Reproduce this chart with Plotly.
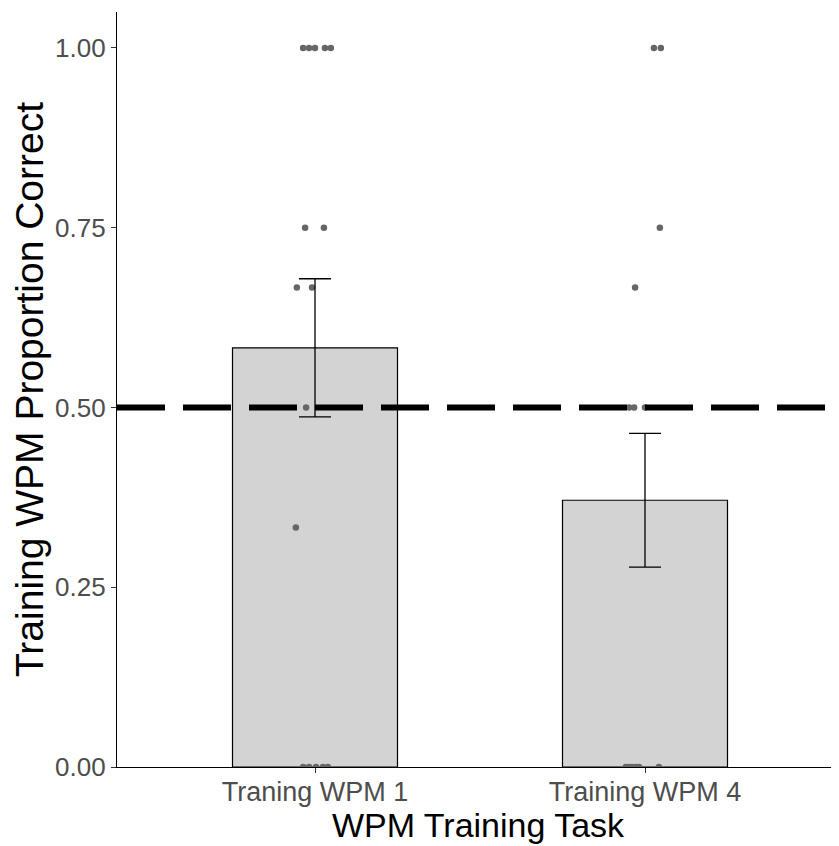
import plotly.graph_objects as go

# ---- data ----
categories = ["Traning WPM 1", "Training WPM 4"]
cat_pos = [1, 2]
means = [0.583, 0.371]
se = [0.096, 0.093]

# individual participant points (x offset from category centre, value)
pts_g1_offset = [-0.036, -0.018, 0.0, 0.030, 0.048, -0.030, 0.027, -0.055, -0.009, -0.027, -0.058,
                 -0.036, -0.018, 0.003, 0.024, 0.039]
pts_g1_value = [1.0, 1.0, 1.0, 1.0, 1.0, 0.75, 0.75, 0.667, 0.667, 0.5, 0.333,
                0.0, 0.0, 0.0, 0.0, 0.0]
pts_g2_offset = [0.027, 0.048, 0.045, -0.030, -0.048, -0.033, 0.0,
                 -0.058, -0.048, -0.039, -0.027, -0.018, 0.042]
pts_g2_value = [1.0, 1.0, 0.75, 0.667, 0.5, 0.5, 0.5,
                0.0, 0.0, 0.0, 0.0, 0.0, 0.0]

chance = 0.5
y_ticks = [0.0, 0.25, 0.5, 0.75, 1.0]
y_ticklabels = ["0.00", "0.25", "0.50", "0.75", "1.00"]

x_range = [0.4, 0.4 + 722 / 330]

fig = go.Figure()

fig.add_trace(go.Bar(
    x=cat_pos, y=means, width=0.5,
    marker=dict(color="#d3d3d3", line=dict(color="black", width=1.2)),
    showlegend=False, hoverinfo="skip",
))

px = [cat_pos[0] + o for o in pts_g1_offset] + [cat_pos[1] + o for o in pts_g2_offset]
py = pts_g1_value + pts_g2_value
fig.add_trace(go.Scatter(
    x=px, y=py, mode="markers",
    marker=dict(color="#666666", size=6.5),
    showlegend=False, cliponaxis=True,
))

fig.add_trace(go.Scatter(
    x=cat_pos, y=means, mode="markers",
    marker=dict(size=1, opacity=0),
    error_y=dict(type="data", array=se, symmetric=True, color="black", thickness=1.3, width=16),
    showlegend=False, hoverinfo="skip",
))

fig.add_shape(type="line", xref="x", yref="y", x0=x_range[0], x1=x_range[1], y0=chance, y1=chance,
              line=dict(color="black", width=6, dash="48px,18px"), layer="above")

font_family = "Liberation Sans, Arial, sans-serif"
fig.update_layout(
    width=831, height=838,
    margin=dict(l=109, r=0, t=4, b=79),
    plot_bgcolor="white", paper_bgcolor="white",
    font=dict(family=font_family),
    xaxis=dict(
        range=x_range, tickvals=cat_pos, ticktext=categories,
        showline=True, linecolor="black", linewidth=1.2,
        ticks="outside", ticklen=5, tickcolor="#333333",
        tickfont=dict(size=27, color="#4d4d4d"),
        ticklabelstandoff=-5,
        showgrid=False, zeroline=False,
        title=dict(text="WPM Training Task", font=dict(size=34, color="black"), standoff=2),
    ),
    yaxis=dict(
        range=[0, 1.05], tickvals=y_ticks, ticktext=y_ticklabels,
        showline=True, linecolor="black", linewidth=1.2,
        ticks="outside", ticklen=5, tickcolor="#333333",
        tickfont=dict(size=26, color="#4d4d4d"),
        showgrid=False, zeroline=False,
        title=dict(text="Training WPM Proportion Correct", font=dict(size=39, color="black"), standoff=4),
    ),
)

fig.write_html("out.html")
